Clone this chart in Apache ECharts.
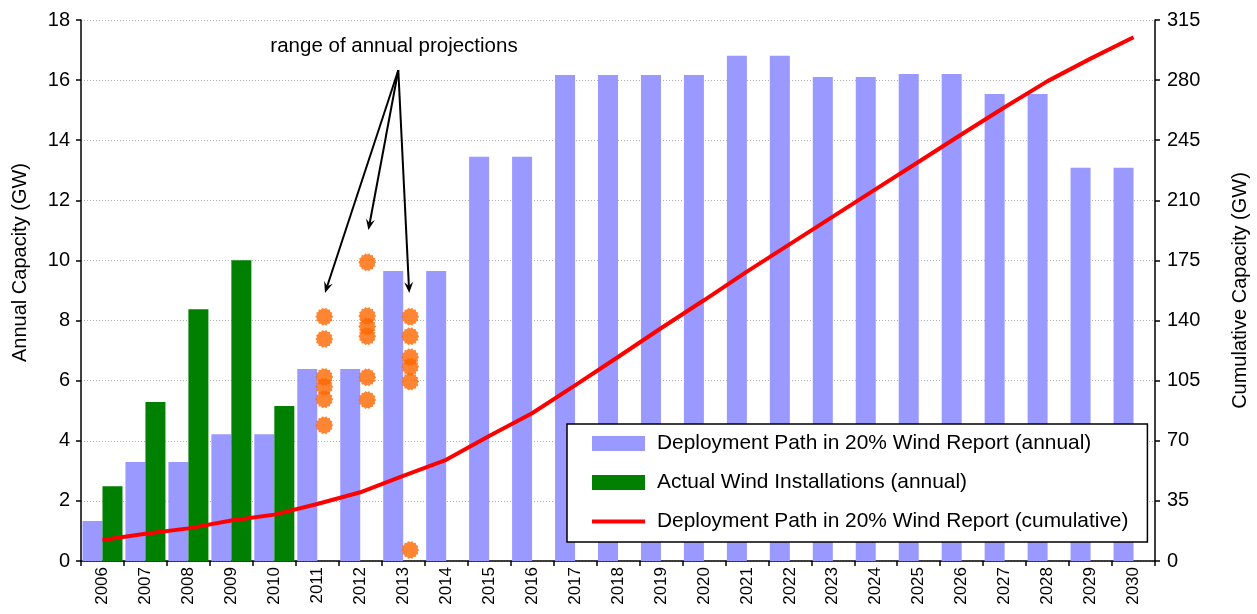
<!DOCTYPE html>
<html>
<head>
<meta charset="utf-8">
<script src="https://cdn.jsdelivr.net/npm/echarts@6/dist/echarts.min.js"></script>
<style>
html,body{margin:0;padding:0;background:#fff;}
#chart{width:1257px;height:614px;}
</style>
</head>
<body>
<div id="chart"></div>
<script>
// ---- data ----
const years = ['2006','2007','2008','2009','2010','2011','2012','2013','2014','2015','2016','2017','2018','2019','2020','2021','2022','2023','2024','2025','2026','2027','2028','2029','2030'];
const deploymentAnnual = [1.33,3.29,3.29,4.22,4.22,6.39,6.39,9.65,9.65,13.45,13.45,16.17,16.17,16.17,16.17,16.81,16.81,16.10,16.10,16.20,16.20,15.54,15.54,13.08,13.08];
const actualAnnual = [2.49,5.29,8.38,10.01,5.16,null,null,null,null,null,null,null,null,null,null,null,null,null,null,null,null,null,null,null,null];
const deploymentCumulative = [12.2,15.9,19.0,23.6,27.0,33.2,40.0,49.5,58.9,72.8,86.0,102.3,118.8,135.5,151.8,168.5,184.5,200.5,216.5,232.5,248.5,264.2,279.4,292.5,305.0];
const projectionYears  = ['2011','2011','2011','2011','2011','2011','2012','2012','2012','2012','2012','2012','2013','2013','2013','2013','2013','2013'];
const projectionValues = [8.13,7.39,6.12,5.80,5.38,4.52,9.94,8.15,7.80,7.48,6.11,5.36,8.13,7.48,6.78,6.46,5.97,0.37];
const leftTicks = {min:0, max:18, interval:2};
const rightTicks = {min:0, max:315, interval:35};
const annotationText = 'range of annual projections';
const annotationTextAt = [6.786, 17.13];
const annotationSource = [6.886, 16.33];
const annotationTargets = [[5.18, 8.92],[6.19, 11.01],[7.14, 8.92]];

const names = {
  dep: 'Deployment Path in 20% Wind Report (annual)',
  act: 'Actual Wind Installations (annual)',
  cum: 'Deployment Path in 20% Wind Report (cumulative)'
};

// starburst symbol
function starPath(n){
  let s = '';
  for (let i = 0; i < 2*n; i++){
    const r = (i % 2) ? 0.84 : 1;
    const a = i * Math.PI / n;
    const x = (r*Math.cos(a)*50 + 50).toFixed(2), y = (r*Math.sin(a)*50 + 50).toFixed(2);
    s += (i === 0 ? 'M' : 'L') + x + ',' + y + ' ';
  }
  return 'path://' + s + 'Z';
}
// thin line legend icon (bounding box kept at full item height by the move-to points)
const lineIcon = 'path://M0,0 M0,15 M0,5.5 L53,5.5 L53,9.5 L0,9.5 Z';

const FONT = '"Liberation Sans", Arial, sans-serif';
const chart = echarts.init(document.getElementById('chart'), null, {renderer:'canvas'});
const gridLine = {show:true, lineStyle:{color:'#b0b0b0', type:[1,2], width:1}};

chart.setOption({
  animation:false,
  backgroundColor:'#fff',
  textStyle:{fontFamily:FONT, color:'#000'},
  grid:{left:81, right:102, top:20, bottom:53, containLabel:false, outerBoundsMode:'none'},
  legend:{
    orient:'vertical', left:567, top:424,
    padding:[9,19,10,25], itemGap:18, itemWidth:53, itemHeight:15,
    backgroundColor:'#fff', borderColor:'#000', borderWidth:1.5,
    textStyle:{fontSize:20.9, fontFamily:FONT, color:'#000', lineHeight:20, padding:[0,0,0,7]},
    data:[{name:names.dep, icon:'rect'},{name:names.act, icon:'rect'},{name:names.cum, icon:lineIcon}]
  },
  xAxis:[{
    type:'category', data:years, boundaryGap:true,
    axisLine:{onZero:false, lineStyle:{color:'#000', width:1.5}},
    axisTick:{show:true, length:5, lineStyle:{color:'#000', width:1.5}},
    axisLabel:{rotate:90, fontSize:17, color:'#000', margin:6, interval:0, fontFamily:FONT},
    splitLine:{show:false}
  },{
    type:'value', min:-0.5, max:24.5, show:false
  }],
  yAxis:[{
    type:'value', min:leftTicks.min, max:leftTicks.max, interval:leftTicks.interval,
    name:'Annual Capacity (GW)', nameLocation:'middle', nameGap:51, nameRotate:90,
    nameTextStyle:{fontSize:20, color:'#000', fontFamily:FONT, padding:[0,0,0,56]},
    axisLine:{show:true, onZero:false, lineStyle:{color:'#000', width:1.5}},
    axisTick:{show:true, length:5, lineStyle:{color:'#000', width:1.5}},
    axisLabel:{fontSize:20, color:'#000', margin:11, fontFamily:FONT},
    splitLine:gridLine
  },{
    type:'value', position:'right', min:rightTicks.min, max:rightTicks.max, interval:rightTicks.interval,
    name:'Cumulative Capacity (GW)', nameLocation:'middle', nameGap:75, nameRotate:90,
    nameTextStyle:{fontSize:20, color:'#000', fontFamily:FONT},
    axisLine:{show:true, onZero:false, lineStyle:{color:'#000', width:1.5}},
    axisTick:{show:true, length:5, lineStyle:{color:'#000', width:1.5}},
    axisLabel:{fontSize:20, color:'#000', margin:12, fontFamily:FONT},
    splitLine:{show:false}
  }],
  series:[
    {name:names.dep, type:'bar', data:deploymentAnnual, barWidth:20, barGap:'0%',
     itemStyle:{color:'#9999FF'}, z:2},
    {name:names.act, type:'bar', data:actualAnnual, barWidth:20, barGap:'0%',
     itemStyle:{color:'#008000'}, z:2},
    {name:'Projections', type:'scatter',
     data:projectionYears.map((y,i)=>[y, projectionValues[i]]),
     symbol:starPath(14), symbolSize:18, symbolOffset:[7,0],
     itemStyle:{color:'#FF6600'}, z:3},
    {name:names.cum, type:'line', yAxisIndex:1, data:deploymentCumulative,
     symbol:'none', showSymbol:false, lineStyle:{color:'#FF0000', width:4}, itemStyle:{color:'#FF0000'}, z:4}
  ]
});

// annotation (positions given in data coordinates)
function px(p){ return chart.convertToPixel({xAxisIndex:1, yAxisIndex:0}, p); }
const src = px(annotationSource);
const graphics = [];
annotationTargets.forEach(t => {
  const tp = px(t);
  const dx = tp[0]-src[0], dy = tp[1]-src[1];
  const L = Math.hypot(dx,dy), ux = dx/L, uy = dy/L;
  const nx = -uy, ny = ux;
  const hl = 11, hw = 4.5, notch = 7;
  graphics.push({type:'line', shape:{x1:src[0], y1:src[1], x2:tp[0]-ux*notch, y2:tp[1]-uy*notch},
    style:{stroke:'#000', lineWidth:2}, z:100});
  graphics.push({type:'polygon', shape:{points:[
    [tp[0], tp[1]],
    [tp[0]-ux*hl+nx*hw, tp[1]-uy*hl+ny*hw],
    [tp[0]-ux*notch, tp[1]-uy*notch],
    [tp[0]-ux*hl-nx*hw, tp[1]-uy*hl-ny*hw]
  ]}, style:{fill:'#000'}, z:100});
});
const tpos = px(annotationTextAt);
graphics.push({type:'text', x:tpos[0], y:tpos[1], z:100,
  style:{text:annotationText, fill:'#000', font:'20.5px ' + FONT, align:'center', verticalAlign:'middle'}});
chart.setOption({graphic:graphics});
</script>
</body>
</html>
